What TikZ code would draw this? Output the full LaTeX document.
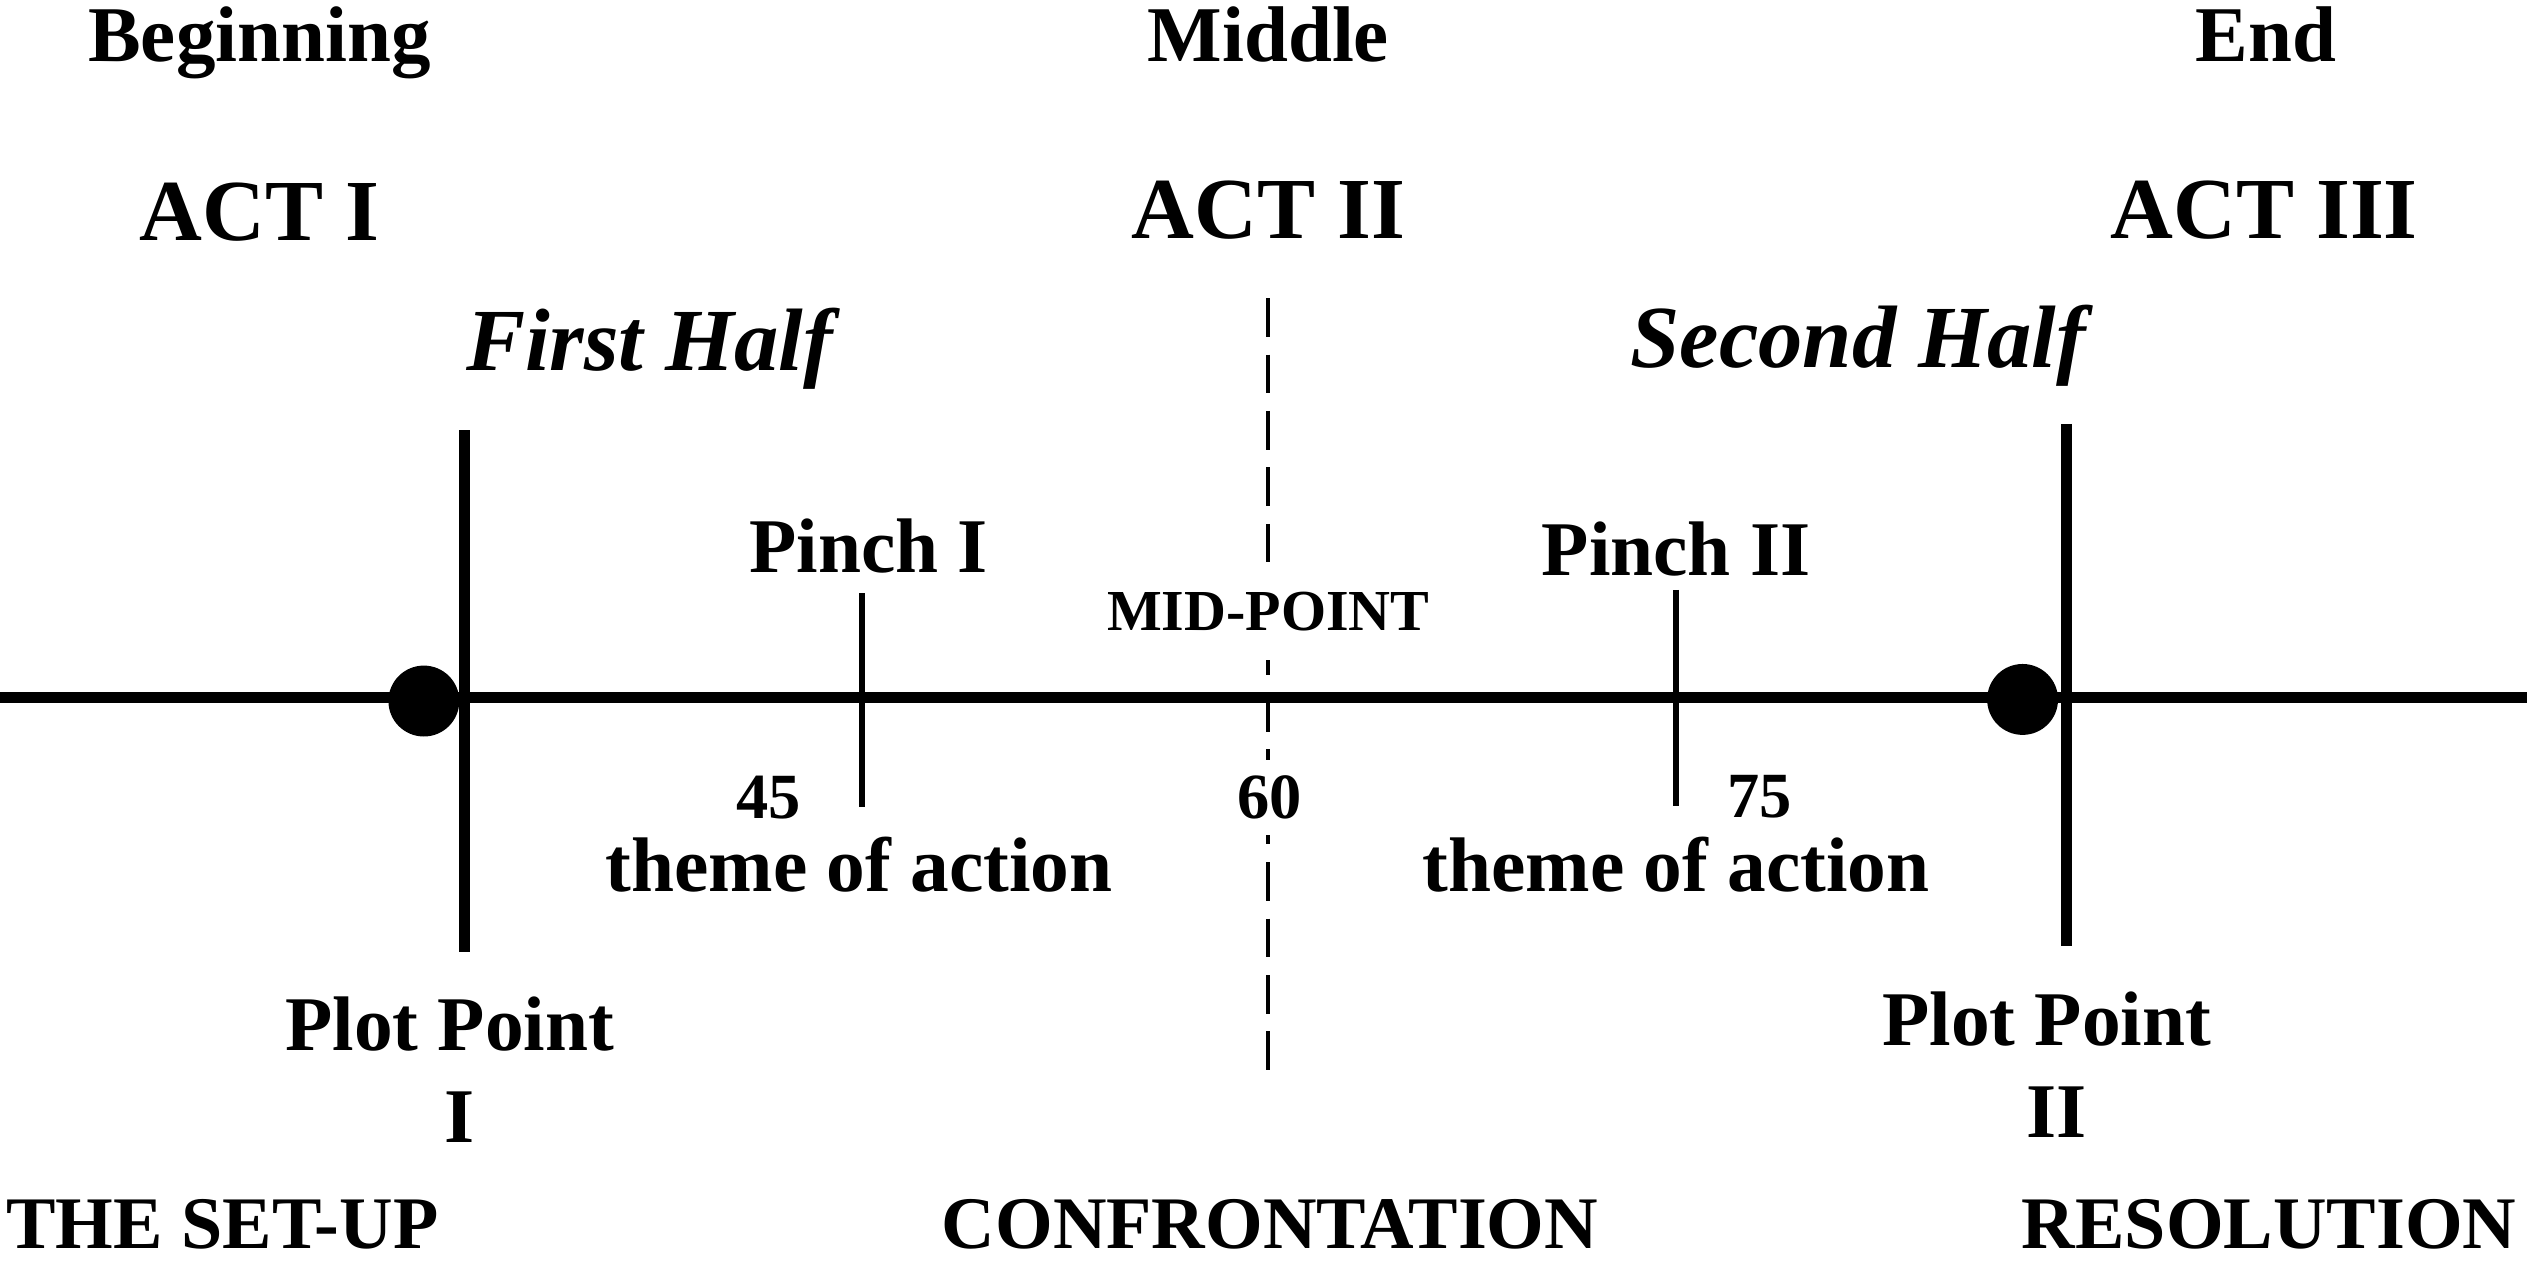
\documentclass[tikz,border=0pt]{standalone}
\usepackage{fontspec}
\setmainfont{Liberation Serif}
\begin{document}
\begin{tikzpicture}[x=0.5pt,y=-0.5pt,
  lbl/.style={inner sep=0pt, anchor=base, font=\bfseries\fontsize{24pt}{28pt}\selectfont},
  head/.style={lbl, font=\bfseries\fontsize{24.5pt}{30pt}\selectfont},
  act/.style={lbl, font=\bfseries\fontsize{27pt}{32pt}\selectfont},
  half/.style={lbl, font=\bfseries\itshape\fontsize{27.5pt}{32pt}\selectfont},
  mid/.style={lbl, font=\bfseries\fontsize{18pt}{22pt}\selectfont},
  num/.style={lbl, font=\bfseries\fontsize{20pt}{24pt}\selectfont},
  part/.style={lbl, font=\bfseries\fontsize{23pt}{28pt}\selectfont},
  mainline/.style={line width=3.4pt},
  plotline/.style={line width=3.4pt},
  pinchline/.style={line width=2pt},
  midline/.style={line width=1.2pt, dash pattern=on 12pt off 5.5pt},
  dot/.style={circle, fill=black, inner sep=0pt, minimum size=22pt},
  gap/.style={fill=white, inner xsep=1pt, inner ysep=5pt}
]
\useasboundingbox (0,0) rectangle (1568,785);

% headings
\node[head] (beg) at (161,38) {Beginning};
\node[head] (midh) at (787,38) {Middle};
\node[head] (end) at (1406,38) {End};
\node[act] (act1) at (161,149) {ACT I};
\node[act] (act2) at (787,148) {ACT II};
\node[act] (act3) at (1405,148) {ACT III};
\node[half] (h1) at (403,230) {First Half};
\node[half] (h2) at (1153,228) {Second Half};

% lines
\coordinate (L) at (0,433);
\coordinate (R) at (1568,433);
\coordinate (mt) at (787,185);
\coordinate (mb) at (787,673);
\draw[midline] (mt) -- (mb);
\draw[mainline] (L) -- (R);

\coordinate (p1t) at (288,267);
\coordinate (p1b) at (288,591);
\coordinate (p2t) at (1282,263);
\coordinate (p2b) at (1282,587);
\draw[plotline] (p1t) -- (p1b);
\draw[plotline] (p2t) -- (p2b);

\coordinate (q1t) at (535,368);
\coordinate (q1b) at (535,501);
\coordinate (q2t) at (1040,366);
\coordinate (q2b) at (1040,500);
\draw[pinchline] (q1t) -- (q1b);
\draw[pinchline] (q2t) -- (q2b);

\node[dot] (d1) at (263,435) {};
\node[dot] (d2) at (1255,434) {};

% labels on the line
\node[lbl] (pin1) at (539,355) {Pinch I};
\node[lbl] (pin2) at (1040,357) {Pinch II};
\node[mid, gap, inner ysep=9pt] (mp) at (787,391) {MID-POINT};
\node[num] (n45) at (477,508) {45};
\node[num, gap] (n60) at (788,508) {60};
\node[num] (n75) at (1092,507) {75};
\node[lbl] (t1) at (533,553) {theme of action};
\node[lbl] (t2) at (1040,553) {theme of action};
\node[lbl] (pp1) at (279,652) {Plot Point};
\node[lbl] (pp1n) at (285,709) {I};
\node[lbl] (pp2) at (1270,649) {Plot Point};
\node[lbl] (pp2n) at (1276,706) {II};

% bottom
\node[part] (s1) at (138,775) {THE SET-UP};
\node[part] (s2) at (788,775) {CONFRONTATION};
\node[part] (s3) at (1408,775) {RESOLUTION};
\end{tikzpicture}
\end{document}
